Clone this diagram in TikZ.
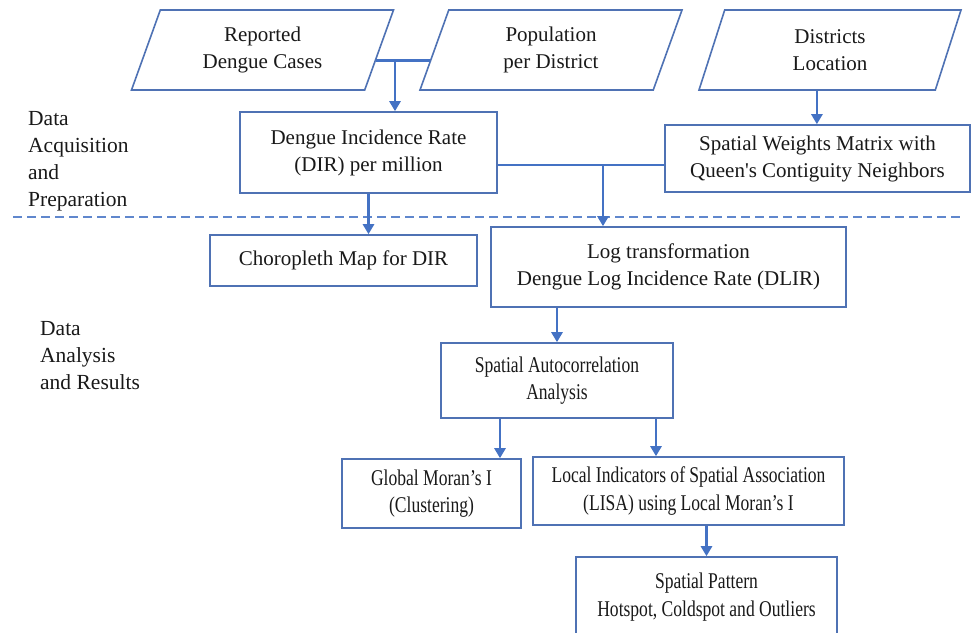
\documentclass[tikz,border=0pt]{standalone}
\usepackage{fontspec}
\setmainfont{Liberation Serif}
\newfontfamily\narrowfont[FakeStretch=0.78]{Liberation Serif}
\usetikzlibrary{shapes.geometric,arrows.meta,calc}
\definecolor{lineblue}{RGB}{79,114,180}
\definecolor{arrowblue}{RGB}{68,114,196}
\definecolor{textgray}{RGB}{25,25,25}
\tikzset{
  box/.style={draw=lineblue, line width=1.6pt, align=center, inner sep=0pt, text=textgray, font=\fontsize{21}{27}\selectfont},
  smallbox/.style={box, font=\narrowfont\fontsize{22.5}{27.5}\selectfont},
  inbox/.style={box, trapezium, trapezium left angle=58, trapezium right angle=122, trapezium stretches body, minimum width=262, minimum height=80},
  flow/.style={draw=arrowblue, line width=2.8pt, -{Triangle[width=11pt,length=10pt]}},
  joint/.style={draw=arrowblue, line width=2.8pt},
  phase/.style={align=left, anchor=north west, inner sep=0pt, text=textgray, font=\fontsize{21.5}{27}\selectfont}
}
\begin{document}
\begin{tikzpicture}[x=1pt,y=-1pt]
\useasboundingbox (0,0) rectangle (971,632);
\fill[white] (0,0) rectangle (971,632);
% inputs
\node[inbox] (cases) at (262.5,50) {Reported\\Dengue Cases};
\node[inbox] (pop) at (551,50) {Population\\per District};
\node[inbox] (loc) at (830,50) {Districts\\Location};
% boxes
\node[box, minimum width=257, minimum height=81] (dir) at (368.5,152.5) {Dengue Incidence Rate\\(DIR) per million};
\node[box, minimum width=305, minimum height=67] (sw) at (817.5,158.5) {Spatial Weights Matrix with\\Queen\textquotesingle s Contiguity Neighbors};
\node[box, minimum width=267, minimum height=51] (choro) at (343.5,260.5) {Choropleth Map for DIR};
\node[box, minimum width=355, minimum height=80] (log) at (668.5,267) {Log transformation\\Dengue Log Incidence Rate (DLIR)};
\node[smallbox, minimum width=232, minimum height=75] (sa) at (557,380.5) {Spatial Autocorrelation\\Analysis};
\node[smallbox, minimum width=179, minimum height=69] (gm) at (431.5,493.5) {Global Moran’s I\\(Clustering)};
\node[smallbox, minimum width=311, minimum height=68] (lisa) at (688.5,491) {Local Indicators of Spatial Association\\(LISA) using Local Moran’s I};
\node[smallbox, minimum width=261, minimum height=80] (sp) at (706.5,597) {Spatial Pattern\\Hotspot, Coldspot and Outliers};
% phases
\node[phase] (prep) at (28,111) {Data\\Acquisition\\and\\Preparation};
\node[phase] (res) at (40,321) {Data\\Analysis\\and Results};
\draw[arrowblue!85, line width=1.5pt, dash pattern=on 9pt off 5pt] (13,217) -- (960,217);
% connectors
\coordinate (jL) at ($(cases.bottom right corner)!0.375!(cases.top right corner)$);
\coordinate (jR) at ($(pop.bottom left corner)!0.375!(pop.top left corner)$);
\coordinate (j) at (395,60);
\draw[joint] (jL) -- (jR);
\draw[flow] (j) -- (j |- dir.north);
\coordinate (locb) at ($(loc.bottom left corner)!0.5!(loc.bottom right corner)$);
\draw[flow] (locb) -- (locb |- sw.north);
\coordinate (k) at (603,165);
\draw[joint] (k -| dir.east) -- (k -| sw.west);
\draw[flow] (k) -- (k |- log.north);
\draw[flow] (dir.south) -- (dir.south |- choro.north);
\draw[flow] (sa.north |- log.south) -- (sa.north);
\draw[flow] ([xshift=-57]sa.south) -- ([xshift=-57]sa.south |- gm.north);
\draw[flow] ([xshift=99]sa.south) -- ([xshift=99]sa.south |- lisa.north);
\draw[flow] (sp.north |- lisa.south) -- (sp.north);
\end{tikzpicture}
\end{document}
